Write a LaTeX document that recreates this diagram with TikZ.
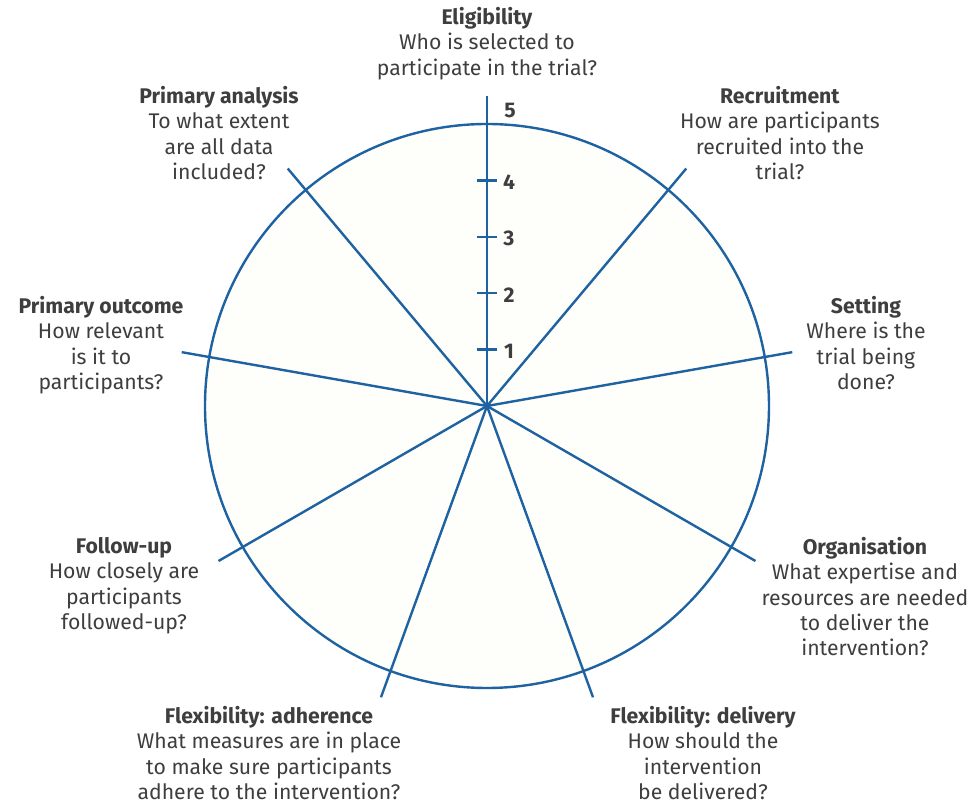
\documentclass[tikz,border=0pt]{standalone}
\usepackage{fontspec}
\setmainfont{Fira Sans}
\usetikzlibrary{positioning}
\definecolor{spokeblue}{RGB}{30,98,162}
\definecolor{labelgrey}{RGB}{62,62,62}
\definecolor{wheelfill}{RGB}{254,254,251}
\tikzstyle{dimlabel} = [align=center, text=labelgrey, font=\fontsize{15.9}{19}\selectfont, inner sep=0pt, anchor=north]
\tikzstyle{spoke} = [draw=spokeblue, line width=1.8pt]
\tikzstyle{score} = [text=labelgrey, font=\fontsize{15.9}{19}\selectfont\bfseries, inner sep=0pt]

\begin{document}
\begin{tikzpicture}[x=0.75pt, y=0.75pt]
  \useasboundingbox (-487,-399) rectangle (485,406);
  \coordinate (hub) at (0,0);
  % wheel
  \draw[spoke, fill=wheelfill] (hub) circle (282);
  \foreach \name/\ang in {elig/90, recr/50, sett/10, orga/-30, deli/-70, adhe/-110, foll/-150, outc/170, anal/130}
  {
    \coordinate (\name-end) at (\ang:310);
    \draw[spoke] (hub) -- (\name-end);
  }
  % scale on the top spoke
  \foreach \n in {1,...,4}
  {
    \draw[spoke] (-10,\n*56.4) -- (10,\n*56.4);
    \node (score\n) [score] at (22,\n*56.4-2) {\n};
  }
  \node (score5) [score] at (23,295) {5};
  % domains
  \node (elig) [dimlabel] at (0,399) {\textbf{Eligibility}\\Who is selected to\\participate in the trial?};
  \node (recr) [dimlabel] at (293,320) {\textbf{Recruitment}\\How are participants\\recruited into the\\trial?};
  \node (sett) [dimlabel] at (379,110) {\textbf{Setting}\\Where is the\\trial being\\done?};
  \node (orga) [dimlabel] at (378,-131) {\textbf{Organisation}\\What expertise and\\resources are needed\\to deliver the\\intervention?};
  \node (deli) [dimlabel] at (216,-300) {\textbf{Flexibility: delivery}\\How should the\\intervention\\be delivered?};
  \node (adhe) [dimlabel] at (-218,-300) {\textbf{Flexibility: adherence}\\What measures are in place\\to make sure participants\\adhere to the intervention?};
  \node (foll) [dimlabel] at (-363,-131) {\textbf{Follow-up}\\How closely are\\participants\\followed-up?};
  \node (outc) [dimlabel] at (-386,110) {\textbf{Primary outcome}\\How relevant\\is it to\\participants?};
  \node (anal) [dimlabel] at (-268,320) {\textbf{Primary analysis}\\To what extent\\are all data\\included?};
\end{tikzpicture}
\end{document}
